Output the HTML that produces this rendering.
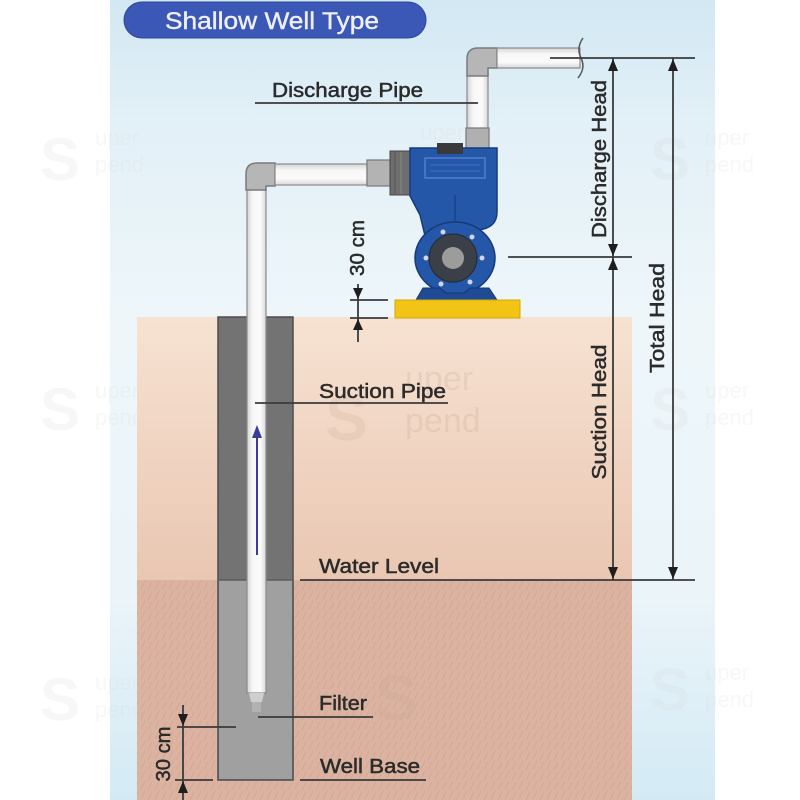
<!DOCTYPE html>
<html><head><meta charset="utf-8"><style>
html,body{margin:0;padding:0;background:#fff;}
svg{display:block;}
text{font-family:"Liberation Sans",Arial,sans-serif;}
</style></head><body>
<svg width="800" height="800" viewBox="0 0 800 800" xmlns="http://www.w3.org/2000/svg">
<defs>
<linearGradient id="panel" x1="0" y1="0" x2="0" y2="1">
<stop offset="0" stop-color="#d2e8f3"/>
<stop offset="0.15" stop-color="#e2f0f7"/>
<stop offset="0.4" stop-color="#eef6fa"/>
<stop offset="0.75" stop-color="#eaf4f9"/>
<stop offset="1" stop-color="#d3eaf5"/>
</linearGradient>
<linearGradient id="ground1" x1="0" y1="0" x2="0" y2="1">
<stop offset="0" stop-color="#f7e2d2"/>
<stop offset="1" stop-color="#e9c7b2"/>
</linearGradient>
<linearGradient id="pipeV" x1="0" y1="0" x2="1" y2="0">
<stop offset="0" stop-color="#d4d4d4"/>
<stop offset="0.3" stop-color="#f7f7f7"/>
<stop offset="0.7" stop-color="#fbfbfb"/>
<stop offset="1" stop-color="#d8d8d8"/>
</linearGradient>
<linearGradient id="pipeH" x1="0" y1="0" x2="0" y2="1">
<stop offset="0" stop-color="#d4d4d4"/>
<stop offset="0.3" stop-color="#f7f7f7"/>
<stop offset="0.7" stop-color="#fbfbfb"/>
<stop offset="1" stop-color="#d8d8d8"/>
</linearGradient>
<pattern id="tex" width="14" height="10" patternUnits="userSpaceOnUse">
<path d="M1,9 L5,1 M8,10 L12,2" stroke="#c89d89" stroke-width="1" opacity="0.5"/>
</pattern>
</defs>

<!-- background -->
<rect x="0" y="0" width="800" height="800" fill="#fff"/>
<rect x="110" y="0" width="605" height="800" fill="url(#panel)"/>

<!-- watermarks -->
<g fill="#d9d9d9" opacity="0.2" font-size="22">
<text x="95" y="145">uper</text><text x="95" y="172">pend</text>
<text x="420" y="140">uper</text><text x="420" y="167">pend</text>
<text x="705" y="145">uper</text><text x="705" y="172">pend</text>
<text x="95" y="398">uper</text><text x="95" y="425">pend</text>
<text x="705" y="398">uper</text><text x="705" y="425">pend</text>
<text x="95" y="690">uper</text><text x="95" y="717">pend</text>
<text x="705" y="680">uper</text><text x="705" y="707">pend</text>
</g>
<g fill="#d0d0d0" opacity="0.15" font-size="60" font-weight="bold">
<text x="40" y="180">S</text><text x="650" y="180">S</text>
<text x="40" y="430">S</text><text x="650" y="430">S</text>
<text x="40" y="720">S</text><text x="650" y="710">S</text>
</g>

<!-- ground -->
<rect x="137" y="317" width="495" height="263" fill="url(#ground1)"/>
<rect x="137" y="580" width="495" height="220" fill="#dbb3a0"/>
<rect x="137" y="580" width="495" height="220" fill="url(#tex)"/>
<g fill="#c9a593" opacity="0.18" font-size="64" font-weight="bold">
<text x="325" y="440">S</text><text x="375" y="720">S</text>
</g>
<g fill="#c8a898" opacity="0.25" font-size="34">
<text x="405" y="390">uper</text><text x="405" y="432">pend</text>
</g>

<!-- well -->
<rect x="218" y="317" width="75" height="463" fill="#737373" stroke="#4c4c4c" stroke-width="1.5"/>
<rect x="219" y="580" width="73" height="199" fill="#a0a0a0"/>
<rect x="218" y="580" width="75" height="200" fill="none" stroke="#5c5c5c" stroke-width="1.5"/>

<!-- suction pipe -->
<rect x="247" y="186" width="19" height="507" fill="url(#pipeV)" stroke="#8a8a8a" stroke-width="1.2"/>
<path d="M249,693 L264,693 L262,702 L251,702 Z" fill="#cfcfcf"/>
<rect x="252" y="702" width="9" height="10" fill="#b9b9b9" opacity="0.7"/>
<!-- suction elbow -->
<path d="M246,190 L246,174 Q246,163 257,163 L275,163 L275,186 L266,186 L266,190 Z" fill="#b6b6b6" stroke="#7a7a7a" stroke-width="1.5"/>
<rect x="275" y="164" width="92" height="21" fill="url(#pipeH)" stroke="#8a8a8a" stroke-width="1.2"/>
<!-- inlet fitting -->
<rect x="367" y="160" width="24" height="26" fill="#b3b3b3" stroke="#777" stroke-width="1.2"/>
<rect x="390" y="151" width="20" height="44" fill="#6e6e6e" stroke="#444" stroke-width="1"/>
<line x1="395" y1="152" x2="395" y2="194" stroke="#555" stroke-width="1"/>
<line x1="401" y1="152" x2="401" y2="194" stroke="#888" stroke-width="1"/>

<!-- discharge pipe -->
<rect x="467" y="74" width="21" height="56" fill="url(#pipeV)" stroke="#8a8a8a" stroke-width="1.2"/>
<path d="M467,76 L467,59 Q467,48 478,48 L497,48 L497,68 L488,68 L488,76 Z" fill="#b6b6b6" stroke="#7a7a7a" stroke-width="1.5"/>
<rect x="497" y="48" width="83" height="20" fill="url(#pipeH)" stroke="#8a8a8a" stroke-width="1.2"/>
<path d="M583,38 Q576,48 581,58 Q586,68 578,78" fill="none" stroke="#555" stroke-width="1.5"/>
<rect x="466" y="128" width="23" height="22" fill="#b0b0b0" stroke="#777" stroke-width="1.2"/>

<!-- pump -->
<path d="M410,148 L497,148 L497,212 Q497,228 478,230 L440,236 L428,248 L420,215 L410,196 Z" fill="#2457a8" stroke="#163a7a" stroke-width="1.5"/>
<ellipse cx="455" cy="258" rx="40" ry="36" fill="#2457a8" stroke="#163a7a" stroke-width="1.5"/>
<path d="M425,158 L485,158 L485,178 L425,178 Z" fill="none" stroke="#4f7fcc" stroke-width="1.5"/>
<path d="M430,165 L480,165 M430,171 L480,171" stroke="#3d6cbd" stroke-width="1.2"/>
<line x1="455" y1="195" x2="455" y2="222" stroke="#163a7a" stroke-width="1"/>
<circle cx="453" cy="258" r="24" fill="#3b3f48" stroke="#25282e" stroke-width="1"/>
<circle cx="453" cy="258" r="11" fill="#9c9c9c"/>
<g fill="#cfd6e2">
<circle cx="443" cy="232" r="2.5"/><circle cx="472" cy="237" r="2.5"/>
<circle cx="482" cy="258" r="2.5"/><circle cx="470" cy="282" r="2.5"/>
<circle cx="441" cy="284" r="2.5"/><circle cx="426" cy="258" r="2.5"/>
</g>
<path d="M416,300 L423,288 L440,288 L446,293 L464,293 L470,288 L489,288 L497,300 Z" fill="#1e4a96" stroke="#143670" stroke-width="1"/>
<rect x="437" y="143" width="26" height="11" fill="#3a3a3a"/>
<rect x="395" y="300" width="125" height="18" fill="#f2c416" stroke="#d6a800" stroke-width="1"/>

<!-- blue flow arrow -->
<line x1="257" y1="555" x2="257" y2="434" stroke="#3b3b9e" stroke-width="2"/>
<path d="M257,425 L262,438 L252,438 Z" fill="#3b3b9e"/>

<!-- dimension lines -->
<g stroke="#3a3a3a" stroke-width="1.8" fill="none">
<line x1="550" y1="58" x2="695" y2="58"/>
<line x1="613" y1="58" x2="613" y2="580"/>
<line x1="673" y1="58" x2="673" y2="580"/>
<line x1="508" y1="257" x2="632" y2="257"/>
<line x1="300" y1="580" x2="695" y2="580"/>
<line x1="255" y1="103" x2="478" y2="103"/>
<line x1="255" y1="403" x2="448" y2="403"/>
<line x1="258" y1="717" x2="373" y2="717"/>
<line x1="300" y1="780" x2="426" y2="780"/>
<line x1="177" y1="727" x2="236" y2="727"/>
<line x1="175" y1="780" x2="213" y2="780"/>
<line x1="183" y1="705" x2="183" y2="800"/>
<line x1="350" y1="300" x2="388" y2="300"/>
<line x1="350" y1="318" x2="388" y2="318"/>
<line x1="358" y1="284" x2="358" y2="342"/>
</g>
<g fill="#1e1e1e">
<path d="M613,59 L618,71 L608,71 Z"/>
<path d="M673,59 L678,71 L668,71 Z"/>
<path d="M613,256 L618,244 L608,244 Z"/>
<path d="M613,258 L618,270 L608,270 Z"/>
<path d="M613,579 L618,567 L608,567 Z"/>
<path d="M673,579 L678,567 L668,567 Z"/>
<path d="M358,299 L363,288 L353,288 Z"/>
<path d="M358,319 L363,330 L353,330 Z"/>
<path d="M183,726 L188,714 L178,714 Z"/>
<path d="M183,781 L188,793 L178,793 Z"/>
</g>

<!-- labels -->
<g fill="#2b2b2b" stroke="#2b2b2b" stroke-width="0.5" font-size="20">
<text x="272" y="97" textLength="151" lengthAdjust="spacingAndGlyphs">Discharge Pipe</text>
<text x="319" y="398" textLength="127" lengthAdjust="spacingAndGlyphs">Suction Pipe</text>
<text x="319" y="573" textLength="120" lengthAdjust="spacingAndGlyphs">Water Level</text>
<text x="319" y="710" textLength="48" lengthAdjust="spacingAndGlyphs">Filter</text>
<text x="320" y="773" textLength="100" lengthAdjust="spacingAndGlyphs">Well Base</text>
<text transform="translate(606,159) rotate(-90)" text-anchor="middle" textLength="158" lengthAdjust="spacingAndGlyphs">Discharge Head</text>
<text transform="translate(606,412) rotate(-90)" text-anchor="middle" textLength="135" lengthAdjust="spacingAndGlyphs">Suction Head</text>
<text transform="translate(664,318) rotate(-90)" text-anchor="middle" textLength="110" lengthAdjust="spacingAndGlyphs">Total Head</text>
<text transform="translate(364,248) rotate(-90)" text-anchor="middle" textLength="56" lengthAdjust="spacingAndGlyphs">30 cm</text>
<text transform="translate(170,754) rotate(-90)" text-anchor="middle" textLength="55" lengthAdjust="spacingAndGlyphs">30 cm</text>
</g>

<!-- title -->
<rect x="124" y="2" width="302" height="36" rx="18" ry="18" fill="#3c58b6" stroke="#2f4798" stroke-width="1"/>
<text x="165" y="29" font-size="24" fill="#eef0f8" stroke="#eef0f8" stroke-width="0.4" textLength="214" lengthAdjust="spacingAndGlyphs">Shallow Well Type</text>
</svg>
</body></html>
